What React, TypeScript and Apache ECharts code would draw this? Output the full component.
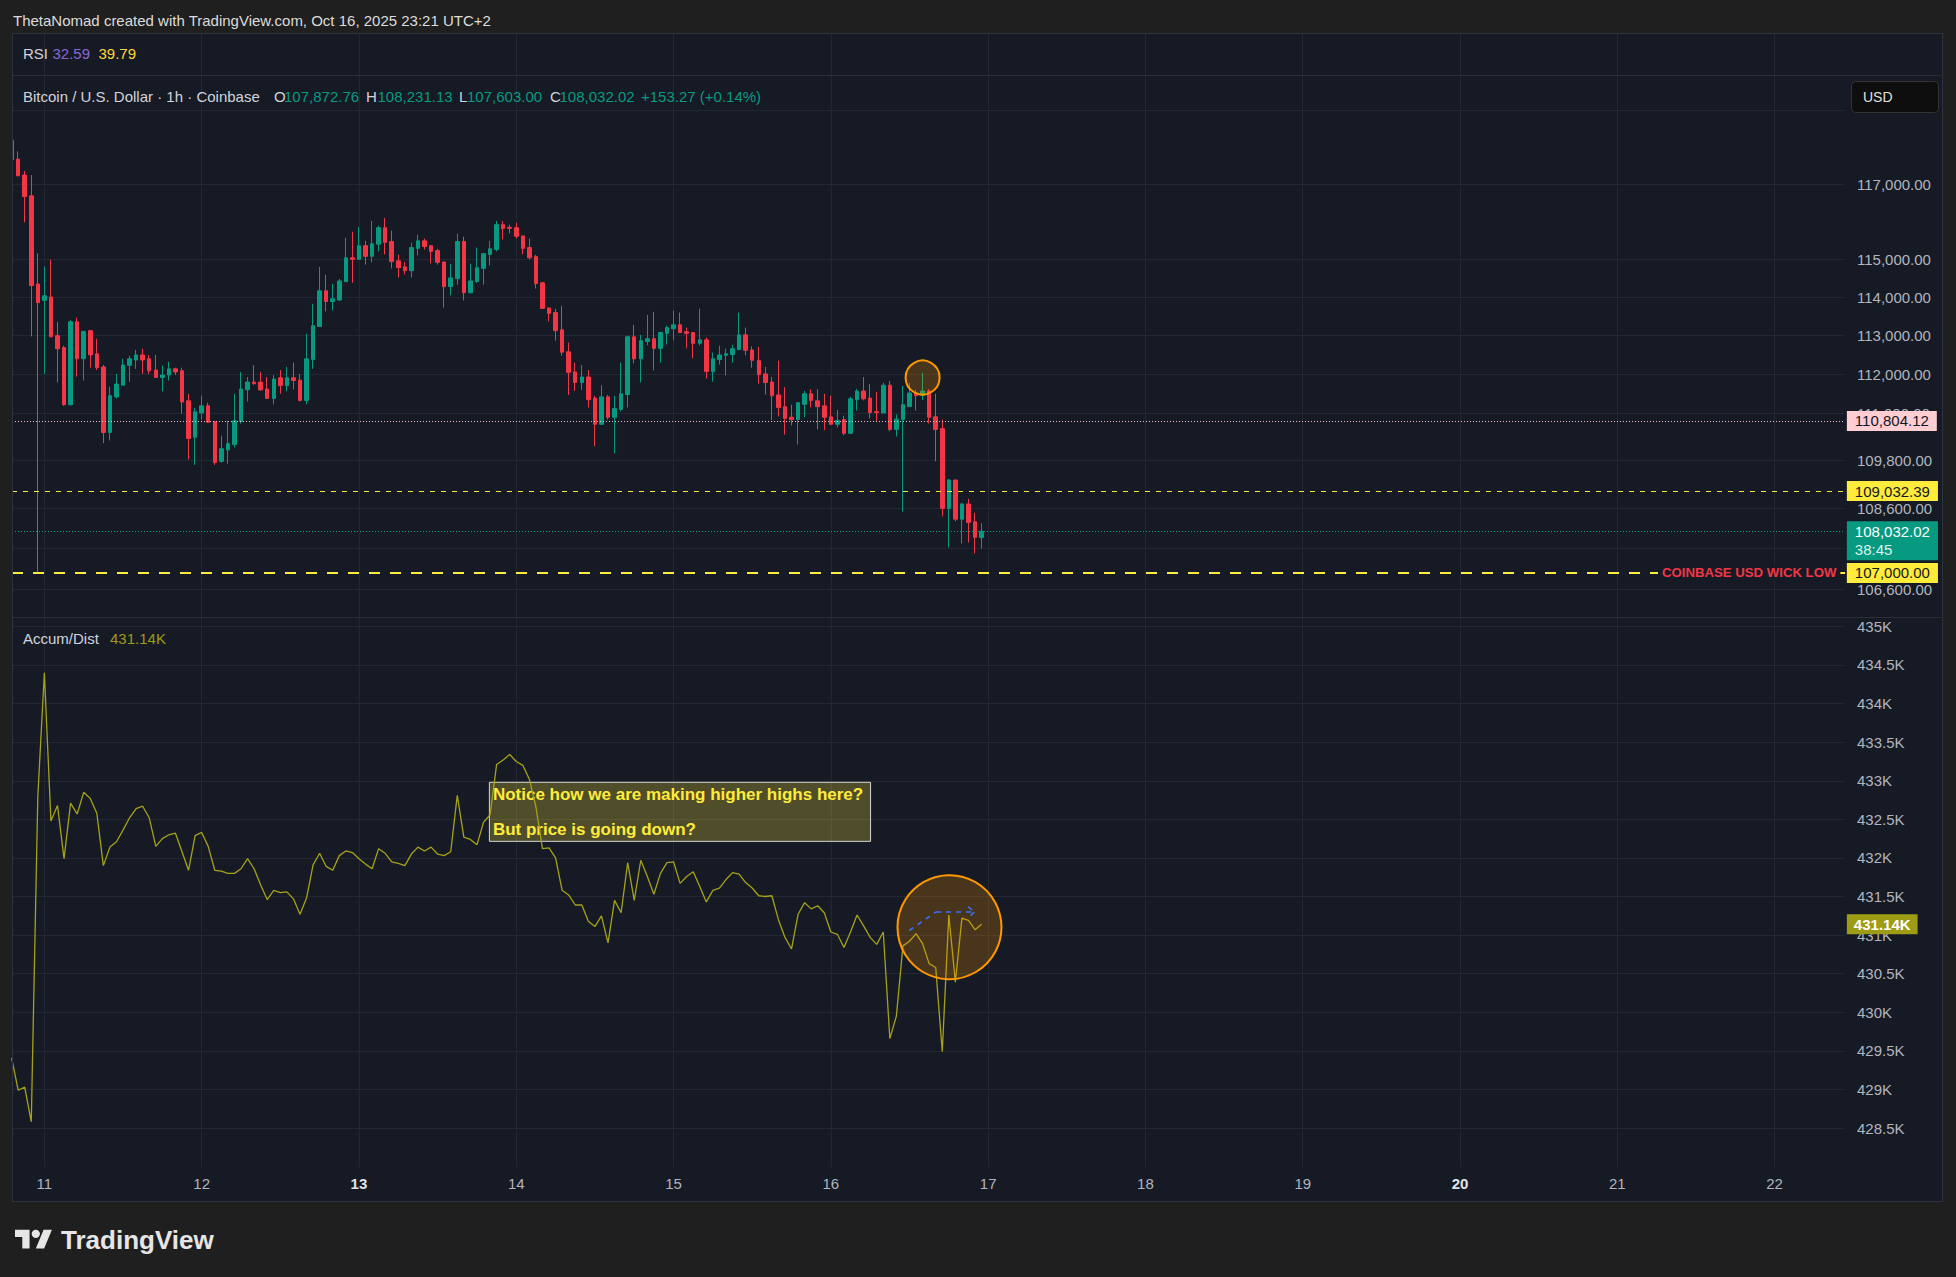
import React, { useEffect, useRef } from "react";
import * as echarts from "echarts";

// Hours counted from Oct 10, 00:00 (UTC+2). First candle: Oct 10, 19:00, 1h candles.
const START_HOUR = 19;

const opens = [
  118190, 117680, 117250, 116690, 114350, 113920, 114010, 113000, 112690, 111220,
  113360, 112400, 113130, 112530, 112190, 110510, 111420, 111720, 112230, 112370,
  112500, 112400, 112110, 111920, 111980, 112140, 112090, 111320, 110390, 111010,
  111190, 110790, 109780, 110070, 110210, 110790, 111600, 111800, 111800, 111620,
  111380, 111910, 111710, 111910, 111850, 111330, 112380, 113240, 114170, 113890,
  113930, 114410, 115040, 115000, 115360, 115080, 115400, 115840, 115470, 114960,
  114800, 114700, 115290, 115490, 115360, 115230, 114930, 114280, 114490, 115470,
  114120, 114410, 114760, 115130, 115260, 115920, 115850, 115840, 115620, 115310,
  115070, 114380, 113720, 113600, 113150, 112580, 112060, 111790, 111930, 111390,
  110720, 111420, 110900, 111100, 111480, 112970, 112400, 112850, 112920, 112670,
  113060, 113180, 113280, 113100, 113080, 112800, 112890, 112070, 112380, 112490,
  112510, 112640, 113020, 112630, 112360, 112010, 111800, 111470, 111170, 110900,
  110840, 111230, 111500, 111320, 111190, 110910, 110720, 110840, 110490, 111350,
  111570, 111390, 111040, 111010, 111720, 110590, 110840, 111170, 111520, 111460,
  111570, 110910, 110610, 108600, 109310, 108330, 108710, 108270, 107872.76,
];
const highs = [
  118210, 117890, 117360, 117250, 115160, 114810, 114990, 113360, 112740, 113410,
  113470, 113130, 113140, 112920, 112240, 111680, 112010, 112400, 112480, 112630,
  112660, 112500, 112500, 112220, 112320, 112170, 112170, 111500, 111140, 111450,
  111270, 110790, 110430, 110810, 111500, 112060, 111930, 112240, 112060, 111930,
  111980, 112110, 112190, 112300, 112010, 113050, 113830, 114800, 114590, 114350,
  114480, 115570, 115730, 115860, 115490, 116020, 115890, 116100, 115760, 115120,
  114930, 115440, 115650, 115550, 115370, 115280, 114940, 114880, 115680, 115600,
  114880, 115310, 115170, 115490, 116020, 116020, 115920, 115970, 115630, 115550,
  115120, 114410, 113730, 113700, 113780, 112820, 112300, 112240, 112110, 111450,
  111720, 111470, 111450, 112300, 113000, 113280, 113020, 113540, 113620, 113100,
  113260, 113650, 113600, 113210, 113080, 113700, 112950, 112560, 112740, 112660,
  112760, 113600, 113210, 112720, 112710, 112190, 111930, 112350, 111670, 111220,
  111280, 111570, 111620, 111620, 111500, 111450, 111090, 110940, 111420, 111620,
  111930, 111750, 111550, 111780, 111830, 110970, 111700, 111780, 111600, 112040,
  111620, 111500, 110840, 109340, 109320, 108740, 108840, 108490, 108231.13,
];
const lows = [
  117650, 117220, 115980, 112980, 107000, 112010, 112960, 111790, 111190, 111200,
  111940, 111840, 112170, 112110, 110240, 110310, 111380, 111720, 111810, 112140,
  112010, 112010, 111910, 111560, 111840, 111980, 110990, 109830, 109690, 110840,
  110760, 109690, 109750, 109720, 110130, 110740, 111300, 111730, 111570, 111370,
  111230, 111500, 111560, 111610, 111300, 111230, 112140, 113230, 113630, 113660,
  113910, 114400, 114380, 114990, 114860, 114920, 115210, 115130, 114760, 114520,
  114600, 114520, 115100, 115260, 114890, 114860, 113730, 114050, 114330, 113920,
  114100, 114380, 114330, 114840, 115210, 115530, 115690, 115550, 115130, 115000,
  114230, 113700, 113370, 112870, 112480, 111470, 111570, 111600, 111150, 110160,
  110710, 110840, 109980, 111050, 111150, 112280, 111790, 112750, 112100, 112300,
  112770, 112880, 113080, 112670, 112410, 112750, 111890, 111810, 112250, 111970,
  112300, 112620, 112490, 112170, 111760, 111480, 110830, 110920, 110460, 110690,
  110210, 110900, 111150, 110590, 110570, 110710, 110640, 110440, 110480, 111070,
  111330, 110870, 110790, 111000, 110540, 110410, 108520, 111170, 111070, 111340,
  110740, 109780, 108400, 107630, 108280, 107730, 107750, 107480, 107603.0,
];
const closes = [
  117670, 117230, 116670, 114310, 113860, 114040, 112970, 112660, 111220, 113360,
  112400, 113110, 112500, 112170, 110510, 111450, 111750, 112240, 112400, 112500,
  112370, 112090, 111920, 111980, 112140, 112060, 111290, 110360, 111040, 111190,
  110770, 109750, 110100, 110230, 110810, 111620, 111800, 111760, 111600, 111380,
  111880, 111710, 111910, 111840, 111330, 112400, 113260, 114170, 113890, 113960,
  114430, 115040, 115000, 115360, 115080, 115410, 115840, 115450, 114940, 114780,
  114700, 115310, 115490, 115340, 115210, 114920, 114280, 114510, 115470, 114120,
  114430, 114780, 115150, 115280, 115920, 115820, 115820, 115610, 115290, 115040,
  114360, 113710, 113580, 113130, 112570, 112050, 111790, 111930, 111350, 110720,
  111420, 110900, 111120, 111500, 112970, 112400, 112870, 112920, 112670, 113080,
  113210, 113280, 113080, 113060, 112800, 112890, 112070, 112400, 112500, 112530,
  112660, 113020, 112620, 112360, 111990, 111790, 111450, 111150, 110870, 110840,
  111270, 111500, 111330, 111170, 110900, 110720, 110820, 110490, 111370, 111570,
  111370, 111020, 111020, 111720, 110590, 110850, 111220, 111520, 111450, 111570,
  110900, 110590, 108600, 109310, 108330, 108710, 108250, 107880, 108032.02,
];
const accumDist = [
  429410, 428990, 429030, 428580, 432800, 434400, 432480, 432680, 431990, 432710,
  432570, 432850, 432770, 432580, 431900, 432140, 432210, 432360, 432520, 432640,
  432670, 432520, 432150, 432250, 432300, 432320, 432080, 431840, 432290, 432330,
  432150, 431840, 431830, 431800, 431800, 431860, 431990, 431860, 431650, 431460,
  431580, 431550, 431560, 431470, 431270, 431480, 431910, 432060, 431890, 431840,
  432030, 432090, 432070, 431990, 431920, 431860, 432120, 432060, 431950, 431930,
  431900, 432050, 432140, 432090, 432140, 432050, 432030, 432080, 432810, 432270,
  432240, 432170, 432460, 432560, 433210, 433270, 433340, 433250, 433200, 433020,
  432660, 432120, 432130, 432000, 431580, 431520, 431390, 431390, 431180, 431110,
  431250, 430900, 431450, 431290, 431940, 431450, 431970, 431760, 431530, 431800,
  431940, 431950, 431670, 431760, 431820, 431630, 431430, 431580, 431610, 431720,
  431810, 431790, 431680, 431610, 431510, 431500, 431510, 431200, 430970, 430820,
  431270, 431420, 431340, 431380, 431290, 431040, 431010, 430840, 431040, 431260,
  431120, 430970, 430880, 431040, 429660, 429950, 430860, 430920, 431020, 430890,
  430630, 430580, 429490, 431260, 430390, 431220, 431190, 431070, 431140,
];

const dayLabels = ["11", "12", "13", "14", "15", "16", "17", "18", "19", "20", "21", "22"];
const dayHours = [24, 48, 72, 96, 120, 144, 168, 192, 216, 240, 264, 288];
const weekStartDays = ["13", "20"];

const priceTickLabels = [117000, 115000, 114000, 113000, 112000, 111000, 109800, 108600, 106600];
const priceGridLevels = [119000, 117000, 115000, 114000, 113000, 112000, 111000, 109800, 108600, 107600, 106600];
const adTicks = [435000, 434500, 434000, 433500, 433000, 432500, 432000, 431500, 431000, 430500, 430000, 429500, 429000, 428500];

const prevHighLevel = 110804.12;
const alertLevel = 109032.39;
const lastPrice = 108032.02;
const wickLowLevel = 107000;
const wickLowText = "COINBASE USD WICK LOW";
const countdown = "38:45";
const adLast = 431140;

const priceCircle = [158.0, 111917];
const adCircle = [162.1, 431102];
const arrowShaft = [[155.97, 431060], [160.05, 431300], [165.85, 431300]];
const arrowHead = [[164.97, 431370], [165.85, 431300], [164.97, 431220]];
const noteBox = [[91.9, 432980], [150.06, 432215]];
const noteLines = ["Notice how we are making higher highs here?", "But price is going down?"];

const headerText = "ThetaNomad created with TradingView.com, Oct 16, 2025 23:21 UTC+2";
const symbolText = "Bitcoin / U.S. Dollar · 1h · Coinbase";
const ohlcLegend = [
  ["O", "107,872.76"],
  ["H", "108,231.13"],
  ["L", "107,603.00"],
  ["C", "108,032.02"],
];
const changeText = "+153.27 (+0.14%)";
const rsiValues = ["32.59", "39.79"];

const X_MIN = 19.06;
const X_MAX = 298.74;
const P_MIN = 105922;
const P_MAX = 119950;
const AD_MIN = 427995;
const AD_MAX = 435109;

const FONT = '"Liberation Sans", Arial, sans-serif';
const UP = "#089981";
const DOWN = "#f23645";
const GRID = "#232733";
const AXIS_TXT = "#b2b5be";
const AD_COLOR = "#a6a11a";
const PANE_BG = "#161a25";
const OUTER_BG = "#1f1f1f";

let logoRegistered = false;
function registerLogo() {
  if (logoRegistered) return;
  logoRegistered = true;
  const d =
    "M14 22H7V11H0V4h14v18zM28 22h-8l7.5-18h8L28 22zM16 8a4 4 0 1 0 8 0a4 4 0 1 0 -8 0z";
  echarts.graphic.registerShape("tvLogo", echarts.graphic.extendPath(d, {}) as any);
}

const fmtPrice = (v: number) =>
  v.toLocaleString("en-US", { minimumFractionDigits: 2, maximumFractionDigits: 2 });

function txt(text: string, x: number, y: number, fill: string, size = 15, weight = "normal") {
  return {
    type: "text",
    x,
    y,
    z: 30,
    silent: true,
    style: { text, fill, fontSize: size, fontFamily: FONT, fontWeight: weight, verticalAlign: "middle", align: "left" },
  };
}

function badge(value: number, text: string, bg: string, color: string, extra: any = {}) {
  return {
    coord: [X_MAX - 0.02, value],
    symbol: "circle",
    symbolSize: 1,
    itemStyle: { color: "rgba(0,0,0,0)" },
    label: {
      show: true,
      position: "right",
      distance: 1.5,
      formatter: text,
      backgroundColor: bg,
      color,
      padding: [3, 8, 2, 8],
      fontSize: 15,
      lineHeight: 15,
      fontFamily: FONT,
      ...extra,
    },
  };
}

export default function App() {
  const ref = useRef<HTMLDivElement>(null);

  useEffect(() => {
    if (!ref.current) return;
    registerLogo();
    const chart = echarts.init(ref.current, null, { renderer: "svg" });

    const hours = opens.map((_, i) => START_HOUR + i);
    const candleData = opens.map((o, i) => [hours[i], o, closes[i], lows[i], highs[i]]);
    const adData = accumDist.map((v, i) => [hours[i], v]);

    const arrowSegs: any[] = [];
    for (let k = 0; k < arrowShaft.length - 1; k++)
      arrowSegs.push([{ coord: arrowShaft[k] }, { coord: arrowShaft[k + 1] }]);
    for (let k = 0; k < arrowHead.length - 1; k++)
      arrowSegs.push([{ coord: arrowHead[k] }, { coord: arrowHead[k + 1] }]);

    const xAxes = [0, 1, 2].map((k) => ({
      type: "value",
      gridIndex: k,
      min: X_MIN,
      max: X_MAX,
      axisLine: { show: false },
      axisTick: { show: false, customValues: dayHours },
      splitLine: { show: true, lineStyle: { color: GRID, width: 1 } },
      axisLabel:
        k === 2
          ? {
              show: true,
              customValues: dayHours,
              margin: 9,
              color: AXIS_TXT,
              fontSize: 15,
              fontFamily: FONT,
              formatter: (v: number) => {
                const s = dayLabels[dayHours.indexOf(Math.round(v))] || "";
                return weekStartDays.includes(s) ? `{b|${s}}` : s;
              },
              rich: { b: { fontWeight: "bold", color: "#e0e3eb", fontSize: 15, fontFamily: FONT } },
            }
          : { show: false, customValues: dayHours },
    }));

    const graphic: any[] = [
      {
        type: "rect",
        z: -10,
        silent: true,
        shape: { x: 12.5, y: 33.5, width: 1930, height: 1168 },
        style: { fill: PANE_BG, stroke: "#2f3340", lineWidth: 1 },
      },
      // frame mask: candles are not pixel-clipped by the grid, hide the part in the outer margin
      { type: "rect", z: 25, silent: true, shape: { x: 0, y: 34, width: 12, height: 584 }, style: { fill: OUTER_BG } },
      { type: "line", z: 26, silent: true, shape: { x1: 12.5, y1: 33.5, x2: 12.5, y2: 1201.5 }, style: { stroke: "#2f3340", lineWidth: 1 } },
      { type: "line", z: -5, silent: true, shape: { x1: 12, y1: 75.5, x2: 1943, y2: 75.5 }, style: { stroke: "#2a2e39", lineWidth: 1 } },
      { type: "line", z: -5, silent: true, shape: { x1: 12, y1: 617.5, x2: 1943, y2: 617.5 }, style: { stroke: "#2a2e39", lineWidth: 1 } },
      txt(headerText, 13, 20, "#dcdcdc", 15),
      txt("RSI", 23, 53.5, "#d1d4dc"),
      txt(rsiValues[0], 52.5, 53.5, "#8a68d4"),
      txt(rsiValues[1], 98.5, 53.5, "#fdd835"),
      txt(symbolText, 23, 96.5, "#d1d4dc"),
      txt(ohlcLegend[0][0], 274, 96.5, "#d1d4dc"),
      txt(ohlcLegend[0][1], 284, 96.5, UP),
      txt(ohlcLegend[1][0], 366, 96.5, "#d1d4dc"),
      txt(ohlcLegend[1][1], 377.5, 96.5, UP),
      txt(ohlcLegend[2][0], 459, 96.5, "#d1d4dc"),
      txt(ohlcLegend[2][1], 467, 96.5, UP),
      txt(ohlcLegend[3][0], 550, 96.5, "#d1d4dc"),
      txt(ohlcLegend[3][1], 559.5, 96.5, UP),
      txt(changeText, 641, 96.5, UP),
      txt("Accum/Dist", 23, 638, "#d1d4dc"),
      txt((adLast / 1000).toFixed(2) + "K", 110, 638, "#9e9b14"),
      {
        type: "rect",
        z: 30,
        silent: true,
        shape: { x: 1851.5, y: 81.5, width: 87, height: 31, r: 4 },
        style: { fill: "#0e0e0e", stroke: "#333333", lineWidth: 1 },
      },
      txt("USD", 1863, 97, "#e0e0e0", 14),
      {
        type: "tvLogo",
        z: 30,
        silent: true,
        x: 15,
        y: 1225.5,
        scaleX: 1.04,
        scaleY: 1.04,
        style: { fill: "#e6e6e6" },
      },
      txt("TradingView", 61, 1240, "#e6e6e6", 26, "bold"),
    ];

    const option: any = {
      backgroundColor: OUTER_BG,
      animation: false,
      textStyle: { fontFamily: FONT },
      grid: [
        { left: 12, top: 34, width: 1833, height: 41 },
        { left: 12, top: 76, width: 1833, height: 541 },
        { left: 12, top: 618, width: 1833, height: 549 },
      ],
      xAxis: xAxes,
      yAxis: [
        { gridIndex: 0, type: "value", min: 0, max: 100, show: false },
        {
          gridIndex: 1,
          type: "log",
          logBase: 10,
          min: P_MIN,
          max: P_MAX,
          position: "right",
          axisLine: { show: false },
          axisTick: { show: false, customValues: priceGridLevels },
          splitLine: { show: true, lineStyle: { color: GRID, width: 1 } },
          axisLabel: {
            customValues: priceTickLabels,
            formatter: (v: number) => fmtPrice(v),
            color: AXIS_TXT,
            fontSize: 15,
            margin: 12,
            fontFamily: FONT,
          },
        },
        {
          gridIndex: 2,
          type: "value",
          min: AD_MIN,
          max: AD_MAX,
          position: "right",
          axisLine: { show: false },
          axisTick: { show: false, customValues: adTicks },
          splitLine: { show: true, lineStyle: { color: GRID, width: 1 } },
          axisLabel: {
            customValues: adTicks,
            formatter: (v: number) => `${v / 1000}K`,
            color: AXIS_TXT,
            fontSize: 15,
            margin: 12,
            fontFamily: FONT,
          },
        },
      ],
      series: [
        { type: "line", xAxisIndex: 0, yAxisIndex: 0, data: [], silent: true },
        {
          type: "candlestick",
          xAxisIndex: 1,
          yAxisIndex: 1,
          data: candleData,
          encode: { x: 0, y: [1, 2, 3, 4] },
          barWidth: 4,
          clip: true,
          silent: true,
          itemStyle: { color: UP, color0: DOWN, borderColor: UP, borderColor0: DOWN, borderWidth: 1 },
          markLine: {
            silent: true,
            symbol: ["none", "none"],
            label: { show: false },
            data: [
              { yAxis: prevHighLevel, lineStyle: { color: "#f7c3c8", type: [1, 2], width: 1 } },
              { yAxis: alertLevel, lineStyle: { color: "#ffeb3b", type: [5, 6], width: 1 } },
              { yAxis: lastPrice, lineStyle: { color: UP, type: [1, 2], width: 1 } },
              { yAxis: wickLowLevel, lineStyle: { color: "#ffeb3b", type: [11, 10], width: 2 } },
            ],
          },
          markPoint: {
            silent: true,
            z: 10,
            data: [
              {
                coord: priceCircle,
                symbol: "circle",
                symbolSize: 34,
                itemStyle: { color: "rgba(255,152,0,0.22)", borderColor: "#ff9800", borderWidth: 2 },
                label: { show: false },
              },
              badge(prevHighLevel, fmtPrice(prevHighLevel), "#ffcdd2", "#131722"),
              badge(alertLevel, fmtPrice(alertLevel), "#ffeb3b", "#131722"),
              badge(lastPrice, `{p|${fmtPrice(lastPrice)}}\n{t|${countdown}}`, UP, "#ffffff", {
                padding: [1, 8, 2, 8],
                offset: [0, 9.5],
                rich: {
                  p: { color: "#ffffff", fontSize: 15, lineHeight: 18, fontFamily: FONT },
                  t: { color: "#d8f3ec", fontSize: 15, lineHeight: 18, fontFamily: FONT },
                },
              }),
              badge(wickLowLevel, fmtPrice(wickLowLevel), "#ffeb3b", "#131722"),
              {
                coord: [X_MAX - 0.02, wickLowLevel],
                symbol: "circle",
                symbolSize: 1,
                itemStyle: { color: "rgba(0,0,0,0)" },
                label: {
                  show: true,
                  position: "left",
                  distance: 4,
                  formatter: wickLowText,
                  color: DOWN,
                  backgroundColor: PANE_BG,
                  padding: [1, 4],
                  fontSize: 13.2,
                  fontWeight: "bold",
                  fontFamily: FONT,
                },
              },
            ],
          },
        },
        {
          type: "line",
          xAxisIndex: 2,
          yAxisIndex: 2,
          data: adData,
          symbol: "none",
          showSymbol: false,
          silent: true,
          lineStyle: { color: AD_COLOR, width: 1.3 },
          markArea: {
            silent: true,
            itemStyle: { color: "rgba(255,235,59,0.25)", borderColor: "#d6d6d6", borderWidth: 1 },
            label: {
              show: true,
              position: [4, -5],
              formatter: noteLines.join("\n"),
              color: "#ffeb3b",
              fontSize: 17,
              fontWeight: "bold",
              lineHeight: 35,
              fontFamily: FONT,
              align: "left",
              verticalAlign: "top",
            },
            data: [[{ coord: noteBox[0] }, { coord: noteBox[1] }]],
          },
          markPoint: {
            silent: true,
            z: 10,
            data: [
              {
                coord: adCircle,
                symbol: "circle",
                symbolSize: 104,
                itemStyle: { color: "rgba(255,152,0,0.22)", borderColor: "#ff9800", borderWidth: 2 },
                label: { show: false },
              },
              badge(adLast, (adLast / 1000).toFixed(2) + "K", "#9e9b14", "#ffffff", {
                fontWeight: "bold",
                padding: [3, 7, 2, 7],
              }),
            ],
          },
        },
        {
          // drawing layer on the Accum/Dist pane: dashed blue arrow
          type: "line",
          xAxisIndex: 2,
          yAxisIndex: 2,
          data: [],
          z: 8,
          silent: true,
          markLine: {
            silent: true,
            z: 20,
            symbol: ["none", "none"],
            label: { show: false },
            lineStyle: { color: "#3a6ff7", type: [5, 5], width: 1.6, opacity: 1 },
            data: arrowSegs,
          },
        },
      ],
      graphic,
    };

    chart.setOption(option);
    return () => chart.dispose();
  }, []);

  return (
    <div
      ref={ref}
      style={{ position: "fixed", left: 0, top: 0, width: 1956, height: 1277 }}
    />
  );
}
